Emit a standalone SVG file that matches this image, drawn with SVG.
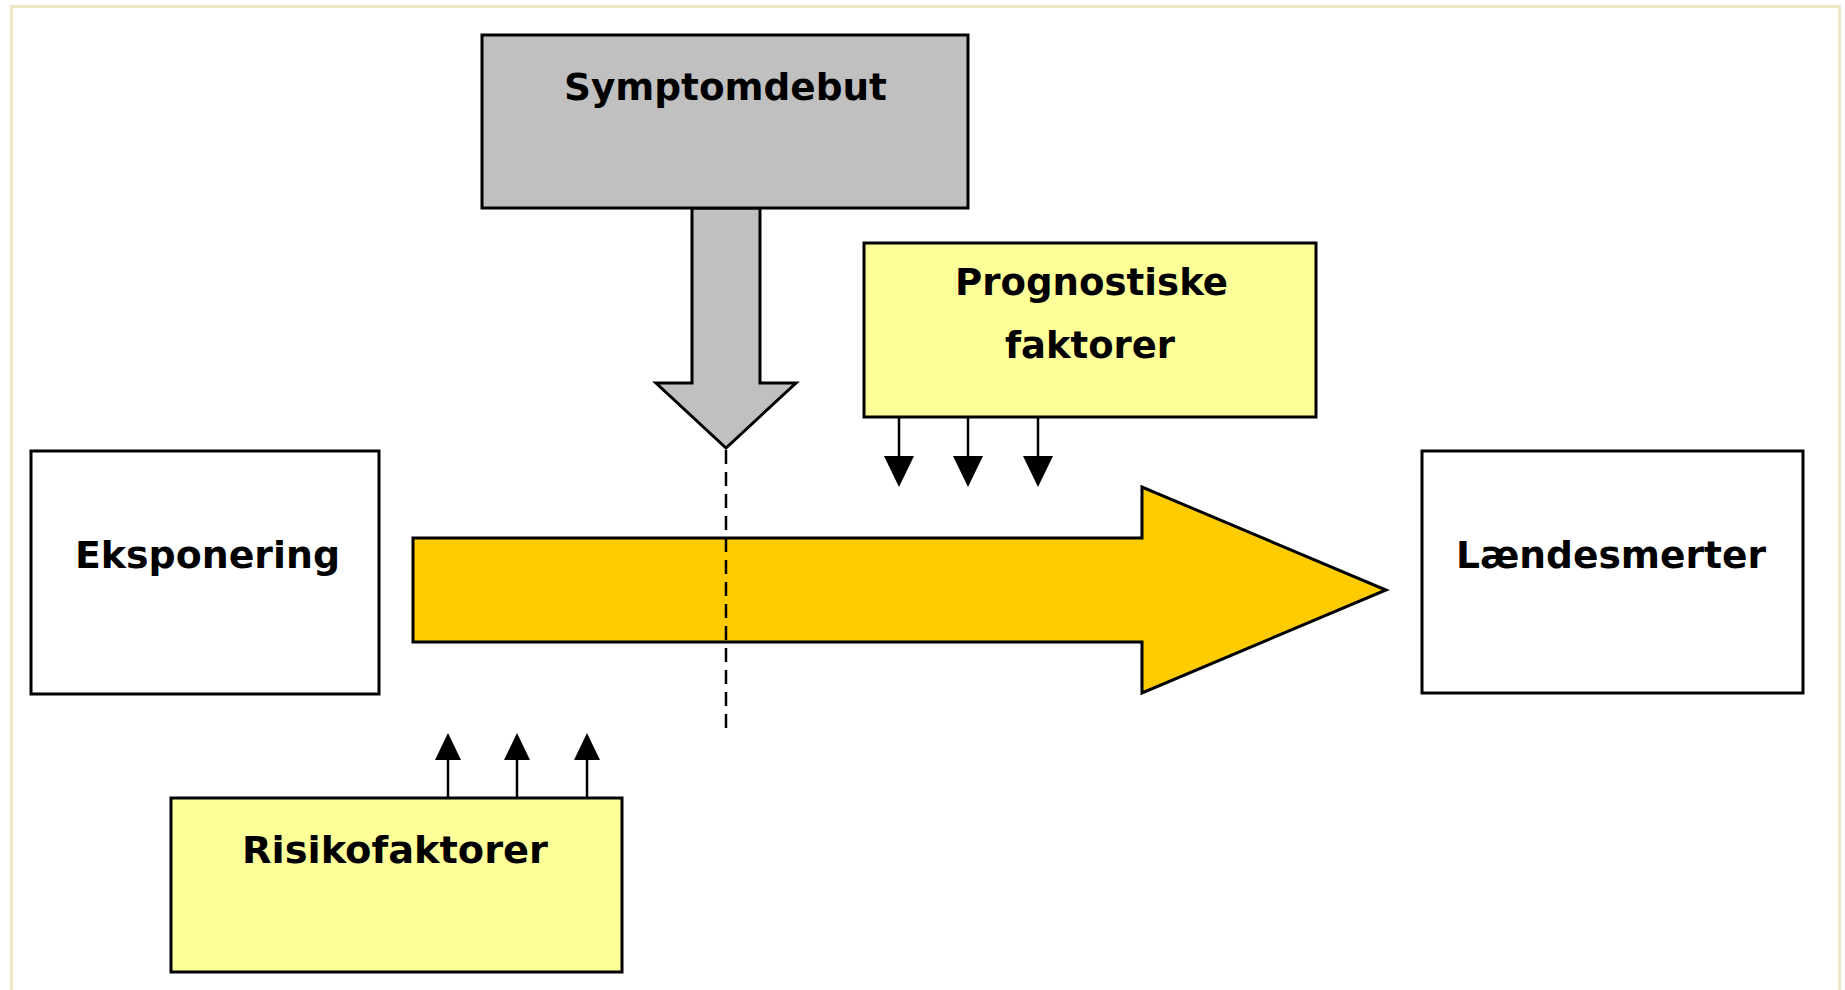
<svg xmlns="http://www.w3.org/2000/svg" width="1845" height="990" viewBox="0 0 1845 990">
<style>
.box{stroke:#000;stroke-width:3}
.lbl{font-family:"DejaVu Sans",Verdana,sans-serif;font-weight:bold;font-size:38px;fill:#000;text-anchor:middle}
.ln{stroke:#000;stroke-width:2.5;fill:none}
.tri{fill:#000;stroke:none}
</style>
<rect x="0" y="0" width="1845" height="990" fill="#fff"/>
<path d="M11.5 990 V6.5 H1839.5 V990" fill="none" stroke="#efe6c6" stroke-width="3"/>
<g id="connectors">
  <polygon id="main-arrow" points="413,538 1142,538 1142,487 1386,590 1142,693 1142,642 413,642" fill="#ffcc00" stroke="#000" stroke-width="3" stroke-linejoin="miter"/>
  <polygon id="onset-arrow" points="692,208 760,208 760,383 796,383 726,448 656,383 692,383" fill="#c0c0c0" stroke="#000" stroke-width="3"/>
  <line x1="726" y1="450" x2="726" y2="728" stroke="#000" stroke-width="2.5" stroke-dasharray="14,8"/>
  <line class="ln" x1="899" y1="417" x2="899" y2="458"/>
  <line class="ln" x1="968" y1="417" x2="968" y2="458"/>
  <line class="ln" x1="1038" y1="417" x2="1038" y2="458"/>
  <polygon class="tri" points="884,456 914,456 899,487"/>
  <polygon class="tri" points="953,456 983,456 968,487"/>
  <polygon class="tri" points="1023,456 1053,456 1038,487"/>
  <line class="ln" x1="448" y1="798" x2="448" y2="757"/>
  <line class="ln" x1="517" y1="798" x2="517" y2="757"/>
  <line class="ln" x1="587" y1="798" x2="587" y2="757"/>
  <polygon class="tri" points="435,760 461,760 448,733"/>
  <polygon class="tri" points="504,760 530,760 517,733"/>
  <polygon class="tri" points="574,760 600,760 587,733"/>
</g>
<g id="symptomdebut">
  <rect class="box" x="482" y="35" width="486" height="173" fill="#c0c0c0"/>
  <text class="lbl" x="725.5" y="100" textLength="323" lengthAdjust="spacingAndGlyphs">Symptomdebut</text>
</g>
<g id="prognostiske">
  <rect class="box" x="864" y="243" width="452" height="174" fill="#ffff99"/>
  <text class="lbl" x="1091.5" y="295" textLength="273" lengthAdjust="spacingAndGlyphs">Prognostiske</text>
  <text class="lbl" x="1090" y="358" textLength="170" lengthAdjust="spacingAndGlyphs">faktorer</text>
</g>
<g id="eksponering">
  <rect class="box" x="31" y="451" width="348" height="243" fill="#fff"/>
  <text class="lbl" x="207.5" y="568" textLength="265" lengthAdjust="spacingAndGlyphs">Eksponering</text>
</g>
<g id="laendesmerter">
  <rect class="box" x="1422" y="451" width="381" height="242" fill="#fff"/>
  <text class="lbl" x="1611" y="568" textLength="310" lengthAdjust="spacingAndGlyphs">Lændesmerter</text>
</g>
<g id="risikofaktorer">
  <rect class="box" x="171" y="798" width="451" height="174" fill="#ffff99"/>
  <text class="lbl" x="395" y="863" textLength="306" lengthAdjust="spacingAndGlyphs">Risikofaktorer</text>
</g>
</svg>
